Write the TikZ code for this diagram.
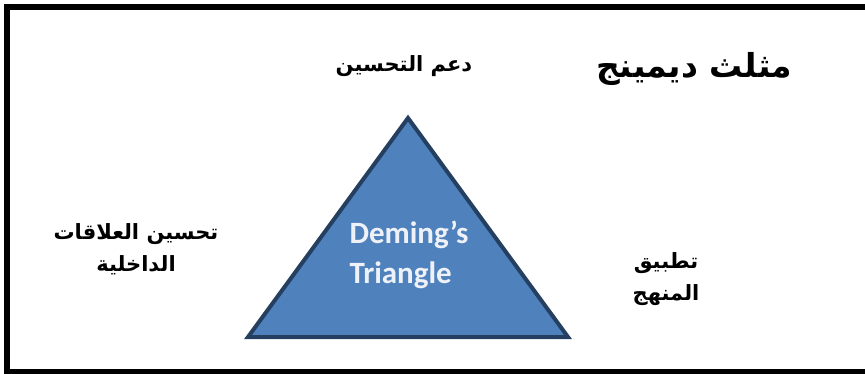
\documentclass[tikz,border=0pt]{standalone}
\usepackage{fontspec}
\setmainfont{Carlito}
\newfontfamily\arabicfont[Script=Arabic]{DejaVu Sans}
\TeXXeTstate=1
\usetikzlibrary{positioning}
\definecolor{triblue}{HTML}{4F81BD}
\definecolor{triedge}{HTML}{243F60}
\definecolor{trifont}{HTML}{EEF2F8}

\begin{document}
\begin{tikzpicture}[x=1pt,y=-1pt,
  lbl/.style={font=\arabicfont\bfseries\fontsize{21}{32}\selectfont, align=center},
  ttl/.style={font=\arabicfont\bfseries\fontsize{33}{40}\selectfont},
  tri/.style={fill=triblue, draw=triedge, line width=4pt, line join=miter}]
\useasboundingbox (0,0) rectangle (865,373);
% frame, open on the right
\begin{scope}
\clip (0,0) rectangle (865,373);
\draw[line width=6pt] (6.5,6.5) rectangle (900,371.5);
\end{scope}

% triangle
\coordinate (apex) at (408,118);
\coordinate (bl) at (248,337);
\coordinate (br) at (568,337);
\draw[tri] (apex) -- (br) -- (bl) -- cycle;
\node[align=left, text=trifont, font=\bfseries\fontsize{31}{40}\selectfont] (deming) at (409,255) {Deming’s\\Triangle};

% labels
\node[ttl] (title) at (694,69) {\beginR مثلث ديمينج\endR};
\node[lbl] (support) at (404,66) {\beginR دعم التحسين\endR};
\node[lbl] (relations) at (136,249) {\beginR تحسين العلاقات\endR\\\beginR الداخلية\endR};
\node[lbl] (method) at (666,279) {\beginR تطبيق\endR\\\beginR المنهج\endR};
\end{tikzpicture}
\end{document}
